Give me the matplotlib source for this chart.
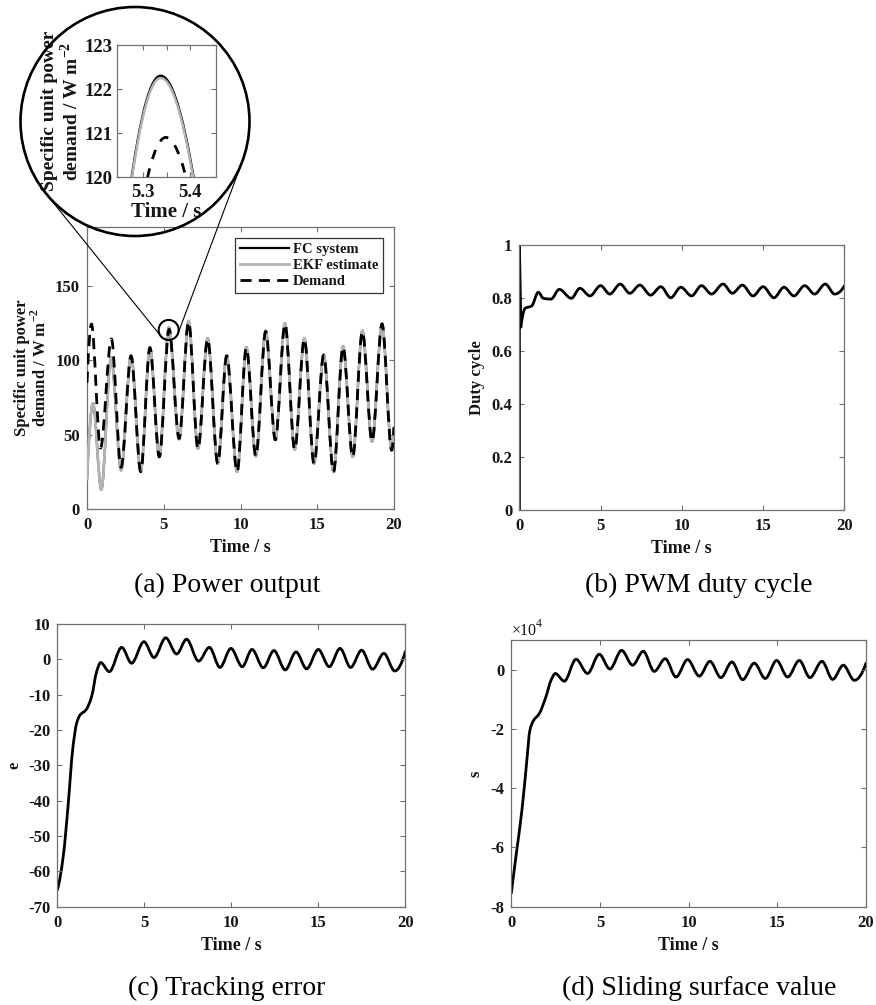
import matplotlib
matplotlib.use('Agg')  # no display
import matplotlib.pyplot as plt
import numpy as np
from matplotlib.lines import Line2D
from matplotlib.patches import Circle, PathPatch
from matplotlib.path import Path
from matplotlib.ticker import FuncFormatter

W, H = 876, 1005

# (a) power output, turning points of each trace: time / s, power / W m^-2
demand_t = [0.00, 0.29, 0.88, 1.59, 2.22, 2.87, 3.50, 4.10, 4.71, 5.348, 6.00, 6.62,
            7.23, 7.86, 8.52, 9.10, 9.78, 10.38, 11.00, 11.64, 12.27, 12.90, 13.53,
            14.16, 14.79, 15.42, 16.06, 16.68, 17.31, 17.94, 18.57, 19.22, 19.85, 20.00]
demand_p = [85, 124.5, 41, 114.5, 28, 103, 25, 108.5, 35, 120.9, 47.5, 126,
            40.5, 114.5, 30.5, 103, 25, 108.5, 35.5, 119.5, 46.5, 124.5, 40,
            114.5, 30.5, 103.5, 25, 109, 35, 119.5, 45.5, 124.5, 39.5, 55]

fc_t = [0.00, 0.39, 0.93, 1.57, 2.22, 2.87, 3.50, 4.10, 4.71, 5.337, 6.00, 6.62,
        7.23, 7.86, 8.52, 9.10, 9.78, 10.38, 11.00, 11.64, 12.27, 12.90, 13.53,
        14.16, 14.79, 15.42, 16.06, 16.68, 17.31, 17.94, 18.57, 19.22, 19.85, 20.00]
fc_p = [20, 71, 13, 102, 26, 103.5, 25.5, 109, 35.5, 122.3, 47, 126.5,
        40.5, 115, 30.5, 103.5, 25, 109, 35.5, 120, 46.5, 125, 40,
        115, 30.5, 104, 25, 109.5, 35, 120, 45.5, 125, 39.5, 55]

ekf_t = [0.00, 0.39, 0.93, 1.57, 2.22, 2.87, 3.50, 4.10, 4.71, 5.337, 6.00, 6.62,
         7.23, 7.86, 8.52, 9.10, 9.78, 10.38, 11.00, 11.64, 12.27, 12.90, 13.53,
         14.16, 14.79, 15.42, 16.06, 16.68, 17.31, 17.94, 18.57, 19.22, 19.85, 20.00]
ekf_p = [20, 71, 13, 102, 26, 103.5, 25.5, 109, 35.5, 122.25, 47, 126.5,
         40.5, 115, 30.5, 103.5, 25, 109, 35.5, 120, 46.5, 125, 40,
         115, 30.5, 104, 25, 109.5, 35, 120, 45.5, 125, 39.5, 55]

# (b) PWM duty cycle: start-up spike, then the settled response
duty_spike_t = [0.0, 0.0, 0.09]
duty_spike = [0.0, 1.0, 0.693]
duty_t = [0.09, 0.35, 0.76, 1.17, 1.48, 1.95, 2.46, 3.20, 3.73, 4.35, 5.00, 5.57,
          6.21, 6.80, 7.42, 8.08, 8.71, 9.32, 9.94, 10.60, 11.21, 11.83, 12.54,
          13.11, 13.73, 14.38, 15.00, 15.67, 16.29, 16.90, 17.56, 18.17, 18.83,
          19.40, 20.00]
duty = [0.693, 0.762, 0.771, 0.823, 0.800, 0.797, 0.834, 0.800, 0.838, 0.809,
        0.848, 0.816, 0.854, 0.819, 0.850, 0.812, 0.844, 0.802, 0.842, 0.809,
        0.848, 0.816, 0.854, 0.819, 0.850, 0.809, 0.844, 0.802, 0.842, 0.809,
        0.848, 0.816, 0.854, 0.816, 0.847]

# (c) tracking error
err_t = [0.00, 0.34, 0.63, 0.88, 1.11, 1.30, 1.65, 1.97, 2.26, 2.49, 2.99, 3.70,
         4.27, 4.98, 5.56, 6.23, 6.86, 7.43, 8.12, 8.74, 9.35, 9.98, 10.63, 11.19,
         11.84, 12.45, 13.10, 13.72, 14.33, 15.00, 15.63, 16.25, 16.86, 17.49,
         18.12, 18.77, 19.39, 20.00]
err = [-65.3, -55.8, -40.8, -25.7, -18.1, -15.8, -14.3, -10.6, -3.5, -0.9, -3.5,
       3.4, -1.1, 5.0, 0.5, 6.1, 1.5, 5.7, -0.5, 3.4, -2.3, 3.1, -2.1, 2.8, -2.4,
       2.5, -3.0, 2.1, -2.7, 2.8, -2.1, 3.1, -2.3, 2.6, -2.8, 1.7, -3.3, 2.2]

# (d) sliding surface value
surf_t = [0.00, 0.26, 0.60, 0.86, 1.05, 1.24, 1.58, 1.95, 2.24, 2.48, 2.99, 3.65,
          4.30, 4.96, 5.56, 6.22, 6.84, 7.44, 8.06, 8.68, 9.29, 9.94, 10.60, 11.20,
          11.82, 12.44, 13.05, 13.70, 14.32, 14.96, 15.58, 16.24, 16.84, 17.52,
          18.12, 18.72, 19.34, 20.00]
surf = [-75500, -63100, -47400, -31700, -20400, -17300, -14800, -9200, -3600,
        -1300, -3900, 3500, -1300, 5200, 200, 6500, 1500, 6200, -600, 3700,
        -2500, 3400, -2200, 2800, -2700, 2600, -3400, 2200, -3000, 3100, -2500,
        3100, -2700, 2800, -3300, 1500, -3600, 2200]

time_ticks = [0, 5, 10, 15, 20]

AX_COLOR = '#707070'
TXT_COLOR = '#151515'
GREY = '#b4b4b4'

plt.rcParams['font.family'] = ['Liberation Serif', 'DejaVu Serif']
plt.rcParams['font.weight'] = 'bold'
plt.rcParams['axes.labelweight'] = 'bold'
plt.rcParams['axes.unicode_minus'] = False
plt.rcParams['mathtext.fontset'] = 'custom'
plt.rcParams['mathtext.rm'] = 'Liberation Serif:bold'
plt.rcParams['mathtext.bf'] = 'Liberation Serif:bold'
plt.rcParams['text.color'] = TXT_COLOR
plt.rcParams['axes.labelcolor'] = TXT_COLOR


def pchip_slopes(x, y):
    """Shape-preserving slopes at each knot (Fritsch-Carlson)."""
    h = np.diff(x)
    d = np.diff(y) / h
    m = np.zeros_like(y)
    for k in range(1, len(x) - 1):
        if d[k - 1] * d[k] > 0:
            w1 = 2 * h[k] + h[k - 1]
            w2 = h[k] + 2 * h[k - 1]
            m[k] = (w1 + w2) / (w1 / d[k - 1] + w2 / d[k])

    def end_slope(h0, h1, d0, d1):
        s = ((2 * h0 + h1) * d0 - h0 * d1) / (h0 + h1)
        if np.sign(s) != np.sign(d0):
            return 0.0
        if np.sign(d0) != np.sign(d1) and abs(s) > abs(3 * d0):
            return 3 * d0
        return s

    m[0] = end_slope(h[0], h[1], d[0], d[1])
    m[-1] = end_slope(h[-1], h[-2], d[-1], d[-2])
    return m


def smooth_line(ax, x, y, **kw):
    """Draw a smooth Bezier curve through the given points."""
    x = np.asarray(x, float)
    y = np.asarray(y, float)
    m = pchip_slopes(x, y)
    verts = [(x[0], y[0])]
    codes = [Path.MOVETO]
    for k in range(len(x) - 1):
        h = x[k + 1] - x[k]
        verts += [(x[k] + h / 3, y[k] + m[k] * h / 3),
                  (x[k + 1] - h / 3, y[k + 1] - m[k + 1] * h / 3),
                  (x[k + 1], y[k + 1])]
        codes += [Path.CURVE4] * 3
    kw.setdefault('capstyle', 'round')
    patch = PathPatch(Path(verts, codes), fill=False, joinstyle='round', **kw)
    ax.add_patch(patch)
    return patch


def add_axes_px(fig, left, top, right, bottom):
    return fig.add_axes([left / W, 1 - bottom / H, (right - left) / W, (bottom - top) / H])


def style_axes(ax, labelsize=12):
    for sp in ax.spines.values():
        sp.set_color(AX_COLOR)
        sp.set_linewidth(0.9)
    ax.tick_params(direction='in', top=True, right=True, length=3.5, width=0.8,
                   color=AX_COLOR, labelcolor=TXT_COLOR, labelsize=labelsize)
    ax.tick_params(axis='x', pad=6)
    ax.tick_params(axis='y', pad=5)


fig = plt.figure(figsize=(W / 100, H / 100), dpi=100)

dash = (0, (4, 2.6))

# (a) power output
ax_a = add_axes_px(fig, 87, 226.7, 394, 509)
smooth_line(ax_a, fc_t, fc_p, edgecolor='black', linewidth=1.6, zorder=2)
smooth_line(ax_a, ekf_t, ekf_p, edgecolor=GREY, linewidth=2.0, zorder=3)
smooth_line(ax_a, demand_t, demand_p, edgecolor='black', linewidth=2.0,
            linestyle=dash, capstyle='butt', zorder=4)
ax_a.set_xlim(0, 20)
ax_a.set_ylim(0, 190)
ax_a.set_xticks(time_ticks)
ax_a.set_yticks([0, 50, 100, 150])
style_axes(ax_a)
ax_a.set_xlabel('Time / s', fontsize=13, labelpad=4)
ax_a.set_ylabel('Specific unit power\ndemand / W m$^{-2}$', fontsize=12,
                labelpad=4, linespacing=1.0)
handles = [Line2D([], [], color='black', lw=1.6),
           Line2D([], [], color=GREY, lw=2.0),
           Line2D([], [], color='black', lw=2.0, linestyle=dash)]
leg = ax_a.legend(handles, ['FC system', 'EKF estimate', 'Demand'],
                  loc='upper right', bbox_to_anchor=(0.964, 0.96), fontsize=10.5,
                  frameon=True, fancybox=False, handlelength=3.4, handletextpad=0.25,
                  labelspacing=0.2, borderpad=0.32, borderaxespad=0)
leg.get_frame().set_edgecolor('black')
leg.get_frame().set_linewidth(0.9)

# zoomed view of the peak near 5.3 s
ax_in = add_axes_px(fig, 117, 45, 216, 177)
smooth_line(ax_in, fc_t, fc_p, edgecolor='black', linewidth=1.8, zorder=2)
smooth_line(ax_in, ekf_t, ekf_p, edgecolor=GREY, linewidth=1.8, zorder=3)
smooth_line(ax_in, demand_t, demand_p, edgecolor='black', linewidth=2.0,
            linestyle=(0, (3.5, 3.5)), capstyle='butt', zorder=4)
ax_in.set_xlim(5.245, 5.454)
ax_in.set_ylim(120, 123)
ax_in.set_xticks([5.3, 5.35, 5.4])
ax_in.set_xticklabels(['5.3', '', '5.4'])
ax_in.set_yticks([120, 121, 122, 123])
style_axes(ax_in, labelsize=13.5)
ax_in.tick_params(axis='y', pad=3)
ax_in.tick_params(axis='x', pad=5)
ax_in.set_xlabel('Time / s', fontsize=15, labelpad=1)
ax_in.set_ylabel('Specific unit power\ndemand / W m$^{-2}$', fontsize=14,
                 labelpad=2, linespacing=1.1)

# (b) PWM duty cycle
ax_b = add_axes_px(fig, 519.3, 245.4, 844.3, 510)
ax_b.plot(duty_spike_t, duty_spike, color='black', lw=2.2, solid_joinstyle='round')
smooth_line(ax_b, duty_t, duty, edgecolor='black', linewidth=2.0)
ax_b.set_xlim(0, 20)
ax_b.set_ylim(0, 1)
ax_b.set_xticks(time_ticks)
ax_b.set_yticks([0, 0.2, 0.4, 0.6, 0.8, 1.0])
ax_b.yaxis.set_major_formatter(FuncFormatter(lambda v, _: f'{v:g}'))
style_axes(ax_b)
ax_b.set_xlabel('Time / s', fontsize=13, labelpad=4)
ax_b.set_ylabel('Duty cycle', fontsize=12, labelpad=5)

# (c) tracking error
ax_c = add_axes_px(fig, 57.3, 624, 405.3, 906.7)
smooth_line(ax_c, err_t, err, edgecolor='black', linewidth=2.0)
ax_c.set_xlim(0, 20)
ax_c.set_ylim(-70, 10)
ax_c.set_xticks(time_ticks)
ax_c.set_yticks(range(-70, 11, 10))
style_axes(ax_c)
ax_c.set_xlabel('Time / s', fontsize=13, labelpad=4)
ax_c.set_ylabel('e', fontsize=12, labelpad=4)

# (d) sliding surface value
ax_d = add_axes_px(fig, 511.3, 640, 866, 906.7)
smooth_line(ax_d, surf_t, surf, edgecolor='black', linewidth=2.0)
ax_d.set_xlim(0, 20)
ax_d.set_ylim(-80000, 10000)
ax_d.set_xticks(time_ticks)
ax_d.set_yticks([-80000, -60000, -40000, -20000, 0])
ax_d.yaxis.set_major_formatter(FuncFormatter(lambda v, _: f'{v / 1e4:g}'))
style_axes(ax_d)
ax_d.set_xlabel('Time / s', fontsize=13, labelpad=4)
ax_d.set_ylabel('s', fontsize=12, labelpad=5)
ax_d.text(0.0, 1.032, '\u00d710', transform=ax_d.transAxes, fontsize=11.5,
          fontweight='normal', ha='left', va='center')
ax_d.text(0.068, 1.06, '4', transform=ax_d.transAxes, fontsize=8.5,
          fontweight='normal', ha='left', va='center')

# magnifier: big circle round the inset, small circle on the peak, tangent lines
ov = fig.add_axes([0, 0, 1, 1], facecolor='none')
ov.set_xlim(0, W)
ov.set_ylim(H, 0)
ov.axis('off')
big_c = np.array([135.0, 121.5])
big_r = 114.5
px = ax_a.transData.transform((5.32, 120.5))
small_c = np.array([px[0], H - px[1]])
small_r = 10.0
ov.add_patch(Circle(big_c, big_r, fill=False, edgecolor='black', lw=1.9))
ov.add_patch(Circle(small_c, small_r, fill=False, edgecolor='black', lw=1.5))
d = small_c - big_c
dist = np.hypot(*d)
base = np.arctan2(d[1], d[0])
off = np.arccos((big_r - small_r) / dist)
for sgn in (1, -1):
    ang = base + sgn * off
    u = np.array([np.cos(ang), np.sin(ang)])
    p1 = big_c + big_r * u
    p2 = small_c + small_r * u
    ov.plot([p1[0], p2[0]], [p1[1], p2[1]], color='black', lw=0.8)

# sub-figure captions
cap = dict(fontsize=20, fontweight='normal', ha='center', va='center', color='black')
fig.text(227 / W, 1 - 585 / H, '(a) Power output', **cap)
fig.text(699 / W, 1 - 585 / H, '(b) PWM duty cycle', **cap)
fig.text(227 / W, 1 - 988 / H, '(c) Tracking error', **cap)
fig.text(699 / W, 1 - 988 / H, '(d) Sliding surface value', **cap)

fig.savefig('out.png', dpi=100, facecolor='white')
